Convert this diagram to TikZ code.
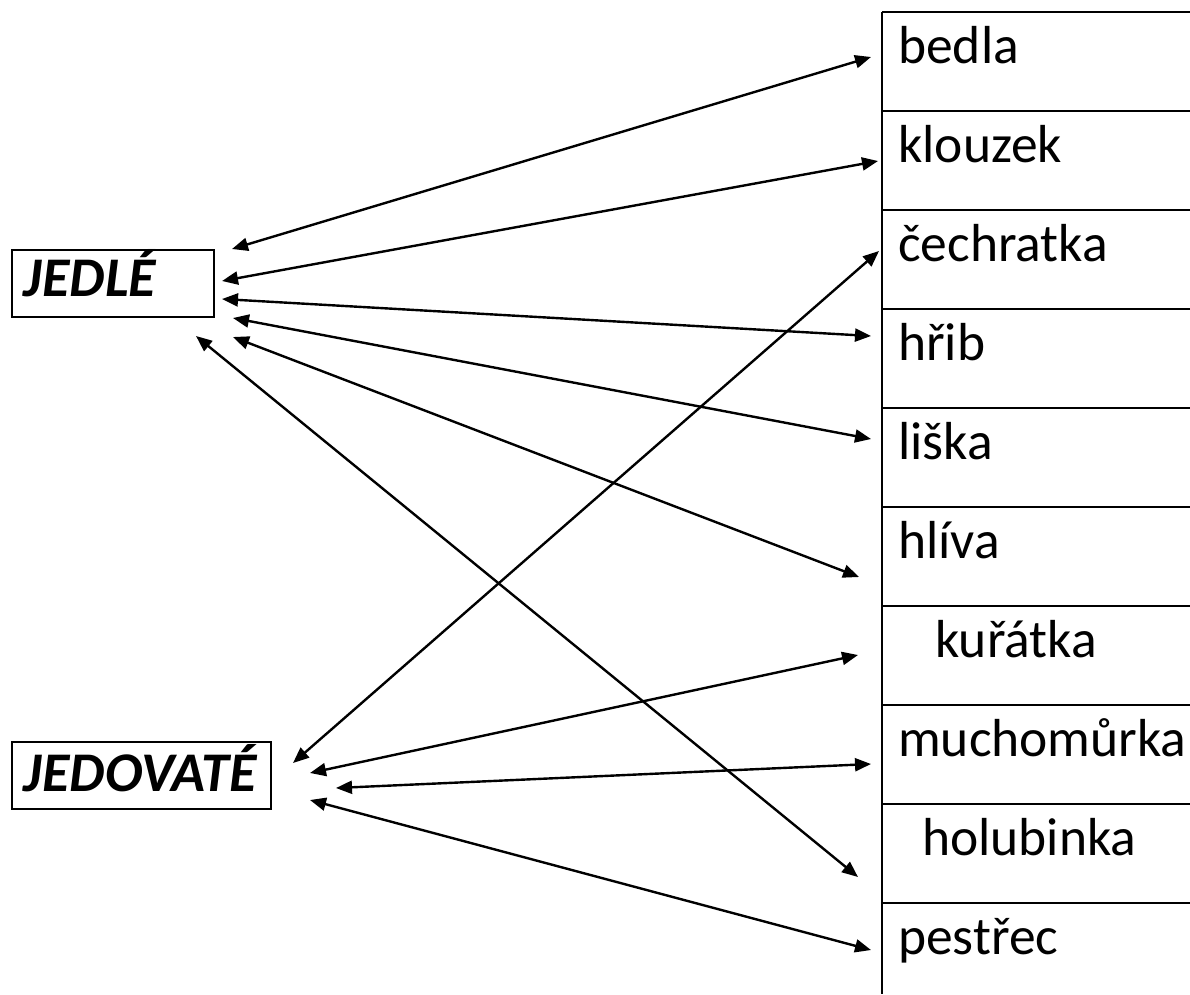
\documentclass[tikz,border=0pt]{standalone}
\usepackage{fontspec}
\setmainfont{Carlito}
\usetikzlibrary{arrows.meta}
\begin{document}
\begin{tikzpicture}[x=1pt,y=-1pt,
  every node/.style={font=\fontsize{53.5}{60}\selectfont},
  item/.style={anchor=base west, inner sep=0pt},
  catbox/.style={draw, line width=2pt, anchor=base west, inner xsep=0pt, inner ysep=0pt,
     align=left, font=\fontsize{56}{60}\selectfont\bfseries\itshape},
  rule/.style={line width=2pt},
  link/.style={line width=2.4pt, {Triangle[length=16pt,width=13pt]}-{Triangle[length=16pt,width=13pt]}}]
\useasboundingbox (0,0) rectangle (1190,994);
% table
\draw[rule] (882,12) -- (1190,12);
\draw[rule] (882,12) -- (882,994);
\foreach \k in {1,...,9} {\draw[rule] (882,12+99*\k) -- (1190,12+99*\k);}
\node[item] (bedla) at (898,63) {bedla};
\node[item] (klouzek) at (898,162) {klouzek};
\node[item] (cechratka) at (898,261) {čechratka};
\node[item] (hrib) at (898,360) {hřib};
\node[item] (liska) at (898,459) {liška};
\node[item] (hliva) at (898,558) {hlíva};
\node[item] (kuratka) at (935,657) {kuřátka};
\node[item] (much) at (898,756) {muchomůrka};
\node[item] (holub) at (922,855) {holubinka};
\node[item] (pestrec) at (898,954) {pestřec};
% categories
\node[catbox, text width=202pt, text height=46pt, text depth=21pt] (jedle) at (11,296) {\hspace*{12pt}JEDLÉ};
\node[catbox, text width=259pt, text height=49pt, text depth=18pt] (jedov) at (11,791) {\hspace*{12pt}JEDOVATÉ};
% arrow ends
\coordinate (l1) at (232,249); \coordinate (r1) at (871,57);
\coordinate (l2) at (222,281); \coordinate (r2) at (878,161);
\coordinate (l3) at (222,299); \coordinate (r3) at (871,336);
\coordinate (l4) at (233,318); \coordinate (r4) at (871,439);
\coordinate (l5) at (233,337); \coordinate (r5) at (859,577);
\coordinate (l6) at (196,336); \coordinate (r6) at (858,877);
\coordinate (l7) at (293,763); \coordinate (r7) at (879,251);
\coordinate (l8) at (310,773); \coordinate (r8) at (858,655);
\coordinate (l9) at (336,788); \coordinate (r9) at (871,764);
\coordinate (l10) at (310,800); \coordinate (r10) at (871,950);
\foreach \i in {1,...,10} {\draw[link] (l\i) -- (r\i);}
\end{tikzpicture}
\end{document}
